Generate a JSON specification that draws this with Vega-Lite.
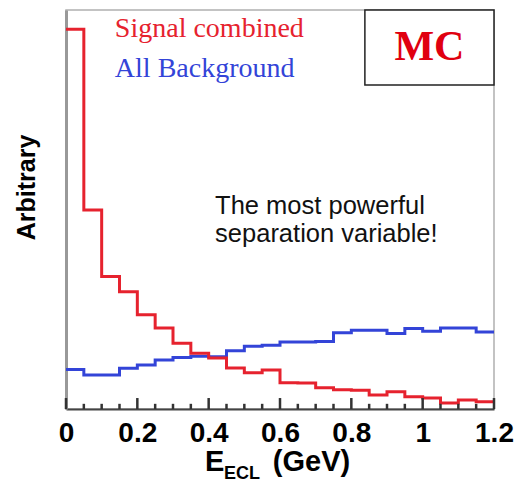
{
  "$schema": "https://vega.github.io/schema/vega-lite/v6.json",
  "width": 428,
  "height": 399,
  "autosize": "none",
  "padding": {"left": 66, "top": 10, "right": 20, "bottom": 75},
  "background": "white",
  "config": {
    "view": {"stroke": "#b0b0b0", "strokeWidth": 1.5},
    "font": "Liberation Sans"
  },
  "datasets": {
    "hist": [
      {"e": 0.00, "s": "All Background", "v": 9.9},
      {"e": 0.05, "s": "All Background", "v": 8.5},
      {"e": 0.10, "s": "All Background", "v": 8.5},
      {"e": 0.15, "s": "All Background", "v": 10.2},
      {"e": 0.20, "s": "All Background", "v": 11.0},
      {"e": 0.25, "s": "All Background", "v": 12.25},
      {"e": 0.30, "s": "All Background", "v": 12.9},
      {"e": 0.35, "s": "All Background", "v": 13.25},
      {"e": 0.40, "s": "All Background", "v": 13.1},
      {"e": 0.45, "s": "All Background", "v": 14.6},
      {"e": 0.50, "s": "All Background", "v": 15.75},
      {"e": 0.55, "s": "All Background", "v": 16.0},
      {"e": 0.60, "s": "All Background", "v": 16.8},
      {"e": 0.65, "s": "All Background", "v": 16.8},
      {"e": 0.70, "s": "All Background", "v": 16.9},
      {"e": 0.75, "s": "All Background", "v": 19.1},
      {"e": 0.80, "s": "All Background", "v": 19.75},
      {"e": 0.85, "s": "All Background", "v": 19.75},
      {"e": 0.90, "s": "All Background", "v": 18.9},
      {"e": 0.95, "s": "All Background", "v": 20.2},
      {"e": 1.00, "s": "All Background", "v": 19.5},
      {"e": 1.05, "s": "All Background", "v": 20.3},
      {"e": 1.10, "s": "All Background", "v": 20.3},
      {"e": 1.15, "s": "All Background", "v": 19.3},
      {"e": 1.20, "s": "All Background", "v": 19.3},
      {"e": 0.00, "s": "Signal combined", "v": 95.2},
      {"e": 0.05, "s": "Signal combined", "v": 49.9},
      {"e": 0.10, "s": "Signal combined", "v": 33.2},
      {"e": 0.15, "s": "Signal combined", "v": 29.4},
      {"e": 0.20, "s": "Signal combined", "v": 23.6},
      {"e": 0.25, "s": "Signal combined", "v": 20.3},
      {"e": 0.30, "s": "Signal combined", "v": 16.5},
      {"e": 0.35, "s": "Signal combined", "v": 14.0},
      {"e": 0.40, "s": "Signal combined", "v": 12.8},
      {"e": 0.45, "s": "Signal combined", "v": 10.3},
      {"e": 0.50, "s": "Signal combined", "v": 9.1},
      {"e": 0.55, "s": "Signal combined", "v": 9.8},
      {"e": 0.60, "s": "Signal combined", "v": 6.6},
      {"e": 0.65, "s": "Signal combined", "v": 6.5},
      {"e": 0.70, "s": "Signal combined", "v": 5.3},
      {"e": 0.75, "s": "Signal combined", "v": 4.8},
      {"e": 0.80, "s": "Signal combined", "v": 4.7},
      {"e": 0.85, "s": "Signal combined", "v": 3.5},
      {"e": 0.90, "s": "Signal combined", "v": 4.3},
      {"e": 0.95, "s": "Signal combined", "v": 3.1},
      {"e": 1.00, "s": "Signal combined", "v": 2.75},
      {"e": 1.05, "s": "Signal combined", "v": 1.5},
      {"e": 1.10, "s": "Signal combined", "v": 2.25},
      {"e": 1.15, "s": "Signal combined", "v": 1.8},
      {"e": 1.20, "s": "Signal combined", "v": 1.8}
    ],
    "major": [{"e": 0}, {"e": 0.2}, {"e": 0.4}, {"e": 0.6}, {"e": 0.8}, {"e": 1.0}, {"e": 1.2}],
    "minor": [
      {"e": 0.05}, {"e": 0.1}, {"e": 0.15}, {"e": 0.25}, {"e": 0.3}, {"e": 0.35},
      {"e": 0.45}, {"e": 0.5}, {"e": 0.55}, {"e": 0.65}, {"e": 0.7}, {"e": 0.75},
      {"e": 0.85}, {"e": 0.9}, {"e": 0.95}, {"e": 1.05}, {"e": 1.1}, {"e": 1.15}
    ],
    "legend": [
      {"e": 0.137, "v": 93.3, "t": "Signal combined", "c": "Signal combined"},
      {"e": 0.137, "v": 83.3, "t": "All Background", "c": "All Background"}
    ],
    "note": [
      {"e": 0.418, "v": 48.9, "t": "The most powerful\nseparation variable!"}
    ],
    "box": [{"e": 0.838, "e2": 1.2, "v": 81.2, "v2": 100, "t": "MC", "tx": 1.019, "tv": 87.5}],
    "xtitle": [
      {"e": 0.39, "v": -15.5, "t": "E"},
      {"e": 0.58, "v": -15.5, "t": "(GeV)"}
    ],
    "xsub": [{"e": 0.443, "v": -17.6, "t": "ECL"}]
  },
  "layer": [
    {
      "data": {"name": "hist"},
      "mark": {"type": "line", "interpolate": "step-after", "strokeWidth": 3},
      "encoding": {
        "x": {
          "field": "e", "type": "quantitative",
          "scale": {"domain": [0, 1.2], "nice": false, "zero": false},
          "axis": {
            "values": [0, 0.2, 0.4, 0.6, 0.8, 1.0, 1.2],
            "format": "~g",
            "ticks": false, "grid": false,
            "domainColor": "#444", "domainWidth": 2,
            "labelFont": "Liberation Sans", "labelFontSize": 28, "labelFontWeight": "bold",
            "labelColor": "#000", "labelPadding": 10, "labelFlush": false,
            "title": null
          }
        },
        "y": {
          "field": "v", "type": "quantitative",
          "scale": {"domain": [0, 100], "nice": false},
          "axis": {
            "ticks": false, "labels": false, "grid": false,
            "domainColor": "#999", "domainWidth": 3,
            "title": "Arbitrary",
            "titleFont": "Liberation Sans", "titleFontSize": 25, "titleFontWeight": "bold",
            "titleColor": "#000", "titlePadding": 27, "titleY": 177
          }
        },
        "color": {
          "field": "s", "type": "nominal",
          "scale": {"domain": ["All Background", "Signal combined"], "range": ["#3344d8", "#e6222e"]},
          "legend": null
        },
        "order": {"field": "e", "type": "quantitative"}
      }
    },
    {
      "data": {"name": "major"},
      "mark": {"type": "rule", "strokeWidth": 2.5, "color": "#333"},
      "encoding": {
        "x": {"field": "e", "type": "quantitative"},
        "y": {"datum": 0},
        "y2": {"datum": 2.75}
      }
    },
    {
      "data": {"name": "minor"},
      "mark": {"type": "rule", "strokeWidth": 2.5, "color": "#333"},
      "encoding": {
        "x": {"field": "e", "type": "quantitative"},
        "y": {"datum": 0},
        "y2": {"datum": 1.3}
      }
    },
    {
      "data": {"name": "legend"},
      "mark": {"type": "text", "font": "Liberation Serif", "fontSize": 28, "align": "left", "baseline": "alphabetic"},
      "encoding": {
        "x": {"field": "e", "type": "quantitative"},
        "y": {"field": "v", "type": "quantitative"},
        "text": {"field": "t"},
        "color": {
          "field": "c", "type": "nominal",
          "scale": {"domain": ["All Background", "Signal combined"], "range": ["#3344d8", "#e6222e"]},
          "legend": null
        }
      }
    },
    {
      "data": {"name": "note"},
      "mark": {"type": "text", "font": "Liberation Sans", "fontSize": 25.5, "align": "left", "baseline": "alphabetic", "color": "#111", "lineBreak": "\n", "lineHeight": 28},
      "encoding": {
        "x": {"field": "e", "type": "quantitative"},
        "y": {"field": "v", "type": "quantitative"},
        "text": {"field": "t"}
      }
    },
    {
      "data": {"name": "box"},
      "mark": {"type": "rect", "fill": "white", "stroke": "#222", "strokeWidth": 1.5},
      "encoding": {
        "x": {"field": "e", "type": "quantitative"},
        "x2": {"field": "e2"},
        "y": {"field": "v", "type": "quantitative"},
        "y2": {"field": "v2"}
      }
    },
    {
      "data": {"name": "box"},
      "mark": {"type": "text", "font": "Liberation Serif", "fontSize": 42, "fontWeight": "bold", "align": "center", "baseline": "alphabetic", "color": "#e00010"},
      "encoding": {
        "x": {"field": "tx", "type": "quantitative"},
        "y": {"field": "tv", "type": "quantitative"},
        "text": {"field": "t"}
      }
    },
    {
      "data": {"name": "xtitle"},
      "mark": {"type": "text", "font": "Liberation Sans", "fontSize": 29, "fontWeight": "bold", "align": "left", "baseline": "alphabetic", "color": "#000"},
      "encoding": {
        "x": {"field": "e", "type": "quantitative"},
        "y": {"field": "v", "type": "quantitative"},
        "text": {"field": "t"}
      }
    },
    {
      "data": {"name": "xsub"},
      "mark": {"type": "text", "font": "Liberation Sans", "fontSize": 18, "fontWeight": "bold", "align": "left", "baseline": "alphabetic", "color": "#000"},
      "encoding": {
        "x": {"field": "e", "type": "quantitative"},
        "y": {"field": "v", "type": "quantitative"},
        "text": {"field": "t"}
      }
    }
  ]
}
